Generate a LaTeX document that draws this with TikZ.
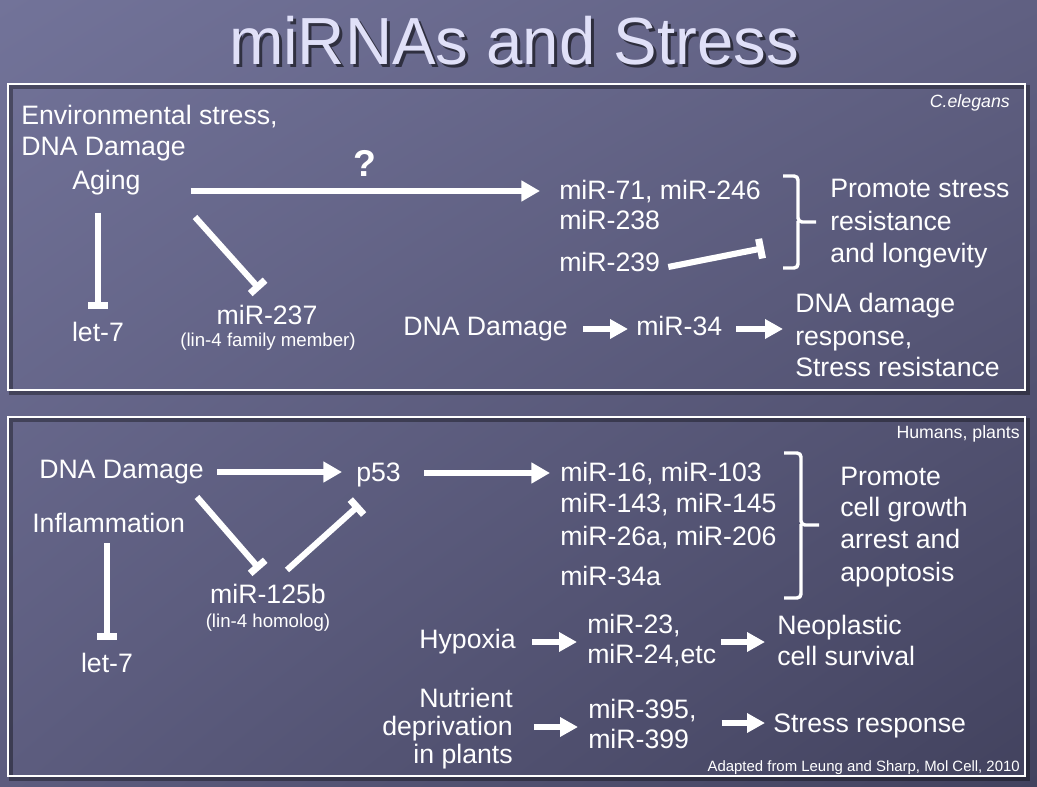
\documentclass[tikz,border=0pt]{standalone}
\usepackage{fontspec}
\setmainfont{Liberation Sans}
\usetikzlibrary{arrows.meta,calc,shadings}
\definecolor{bgUL}{RGB}{114,115,153}
\definecolor{bgUR}{RGB}{96,96,130}
\definecolor{bgLL}{RGB}{92,92,126}
\definecolor{bgLR}{RGB}{66,66,94}
\definecolor{titlecol}{RGB}{224,224,248}
\tikzset{
  txt/.style={font=\fontsize{20}{24}\selectfont, text=white, inner sep=0pt},
  small/.style={font=\fontsize{14}{17}\selectfont, text=white, inner sep=0pt},
  tiny/.style={font=\fontsize{13.3}{16}\selectfont, text=white, inner sep=0pt},
  arr/.style={white, line width=4.6pt, -{Triangle[length=14pt,width=15pt]}},
  sarr/.style={white, line width=4.6pt, -{Triangle[length=13.5pt,width=14pt]}},
  inh/.style={white, line width=4.6pt, -{Rectangle[length=5.3pt,width=15pt]}},
  brace/.style={white, line width=2.6pt, rounded corners=3pt},
  frame/.style={white, line width=1.9pt},
  frameshadow/.style={black, opacity=0.35, line width=2.5pt},
  titlefont/.style={font=\fontsize{50}{55}\selectfont, inner sep=0pt, anchor=base, xscale=0.98}
}
\begin{document}
\begin{tikzpicture}[x=0.75pt,y=-0.75pt]
\useasboundingbox (0,0) rectangle (1037,787);
\shade[upper left=bgUL, upper right=bgUR, lower left=bgLL, lower right=bgLR] (0,0) rectangle (1037,787);

% title with drop shadow
\node[titlefont, text=black, opacity=0.55] (titleshadow) at (517,68) {miRNAs and Stress};
\node[titlefont, text=titlecol] (title) at (514,65) {miRNAs and Stress};

% frames
\draw[frameshadow] (11,87) rectangle (1028,393);
\draw[frame] (8,84) rectangle (1025,390);
\draw[frameshadow] (11,420) rectangle (1028,779);
\draw[frame] (8,417) rectangle (1025,776);

% ---------- top panel ----------
\node[tiny, font=\fontsize{13.3}{16}\selectfont\itshape, anchor=base east] (celegans) at (1010,108) {C.elegans};
\node[txt, anchor=base west] (env1) at (21,125) {Environmental stress,};
\node[txt, anchor=base west] (env2) at (21,156) {DNA Damage};
\node[txt, anchor=base west] (aging) at (72,190) {Aging};
\node[font=\fontsize{28}{30}\selectfont\bfseries, text=white, inner sep=0pt, anchor=base] (q) at (365,177) {?};
\node[txt, anchor=base west] (mir71) at (559,200) {miR-71, miR-246};
\node[txt, anchor=base west] (mir238) at (559,230) {miR-238};
\node[txt, anchor=base west] (mir239) at (559,272) {miR-239};
\node[txt, anchor=base west] (pr1) at (830,198) {Promote stress};
\node[txt, anchor=base west] (pr2) at (830,231) {resistance};
\node[txt, anchor=base west] (pr3) at (830,263) {and longevity};
\node[txt, anchor=base] (let7a) at (98,342) {let-7};
\node[txt, anchor=base] (mir237) at (267,325) {miR-237};
\node[small, anchor=base] (lin4a) at (268,347) {(lin-4 family member)};
\node[txt, anchor=base west] (dna2) at (403,336) {DNA Damage};
\node[txt, anchor=base west] (mir34) at (636,336) {miR-34};
\node[txt, anchor=base west] (dr1) at (795,313) {DNA damage};
\node[txt, anchor=base west] (dr2) at (795,346) {response,};
\node[txt, anchor=base west] (dr3) at (795,377) {Stress resistance};

\draw[arr] ($(aging.base east)+(50,1)$) -- ($(mir71.base west)+(-19,-9)$);
\draw[inh] ($(let7a.base)+(0,-129)$) -- ($(let7a.base)+(0,-33)$);
\draw[inh] ($(mir237.base)+(-72,-108)$) -- ($(mir237.base)+(-7,-35.5)$);
\draw[inh] ($(mir239.base east)+(8,-5)$) -- ($(pr2.base west)+(-66,17)$);
\draw[sarr] ($(dna2.base east)+(15,-7)$) -- ($(mir34.base west)+(-8,-7)$);
\draw[sarr] ($(mir34.base east)+(14,-7)$) -- ($(dr2.base west)+(-12,-17)$);

\draw[brace] (783,176) -| (798,222) -- (816,222);
\draw[brace] (798,221) |- (783,268);

% ---------- bottom panel ----------
\node[tiny, anchor=base east] (humans) at (1020,438) {Humans, plants};
\node[txt, anchor=base west] (bdna) at (39,478) {DNA Damage};
\node[txt, anchor=base west] (p53) at (356,481) {p53};
\node[txt, anchor=base west] (infl) at (32,532) {Inflammation};
\node[txt, anchor=base] (let7b) at (107,672) {let-7};
\node[txt, anchor=base] (mir125) at (268,603) {miR-125b};
\node[small, anchor=base] (lin4b) at (268,627) {(lin-4 homolog)};
\node[txt, anchor=base west] (m16) at (560,481) {miR-16, miR-103};
\node[txt, anchor=base west] (m143) at (560,512) {miR-143, miR-145};
\node[txt, anchor=base west] (m26) at (560,545) {miR-26a, miR-206};
\node[txt, anchor=base west] (m34a) at (560,585) {miR-34a};
\node[txt, anchor=base west] (pc1) at (840,485) {Promote};
\node[txt, anchor=base west] (pc2) at (840,516) {cell growth};
\node[txt, anchor=base west] (pc3) at (840,548) {arrest and};
\node[txt, anchor=base west] (pc4) at (840,581) {apoptosis};
\node[txt, anchor=base east] (hyp) at (516,648) {Hypoxia};
\node[txt, anchor=base west] (m23) at (587,633) {miR-23,};
\node[txt, anchor=base west] (m24) at (587,663) {miR-24,etc};
\node[txt, anchor=base west] (neo1) at (777,634) {Neoplastic};
\node[txt, anchor=base west] (neo2) at (777,665) {cell survival};
\node[txt, anchor=base east] (nut1) at (513,707) {Nutrient};
\node[txt, anchor=base east] (nut2) at (513,735) {deprivation};
\node[txt, anchor=base east] (nut3) at (513,763) {in plants};
\node[txt, anchor=base west] (m395) at (588,718) {miR-395,};
\node[txt, anchor=base west] (m399) at (588,748) {miR-399};
\node[txt, anchor=base west] (sresp) at (773,732) {Stress response};
\node[font=\fontsize{11.2}{13}\selectfont, text=white, inner sep=0pt, anchor=base east] (adapted) at (1020,771) {Adapted from Leung and Sharp, Mol Cell, 2010};

\draw[arr] ($(bdna.base east)+(13,-6)$) -- ($(p53.base west)+(-14,-9)$);
\draw[arr] ($(p53.base east)+(23,-8)$) -- ($(m16.base west)+(-10,-8)$);
\draw[inh] ($(let7b.base)+(0,-129)$) -- ($(let7b.base)+(0,-32)$);
\draw[inh] ($(mir125.base)+(-71,-106)$) -- ($(mir125.base)+(-8,-33.5)$);
\draw[inh] ($(mir125.base)+(19,-33)$) -- ($(p53.base west)+(3.6,23.7)$);
\draw[sarr] ($(hyp.base east)+(16,-6)$) -- ($(m23.base west)+(-10,9)$);
\draw[sarr] ($(m24.base east)+(5,-21)$) -- ($(neo1.base west)+(-12,8)$);
\draw[sarr] ($(nut2.base east)+(21,-8)$) -- ($(m395.base west)+(-10,9)$);
\draw[sarr] ($(m395.base east)+(25,5)$) -- ($(sresp.base west)+(-8,-9)$);

\draw[brace] (784,453) -| (801,525) -- (819,525);
\draw[brace] (801,524) |- (784,598);
\end{tikzpicture}
\end{document}
